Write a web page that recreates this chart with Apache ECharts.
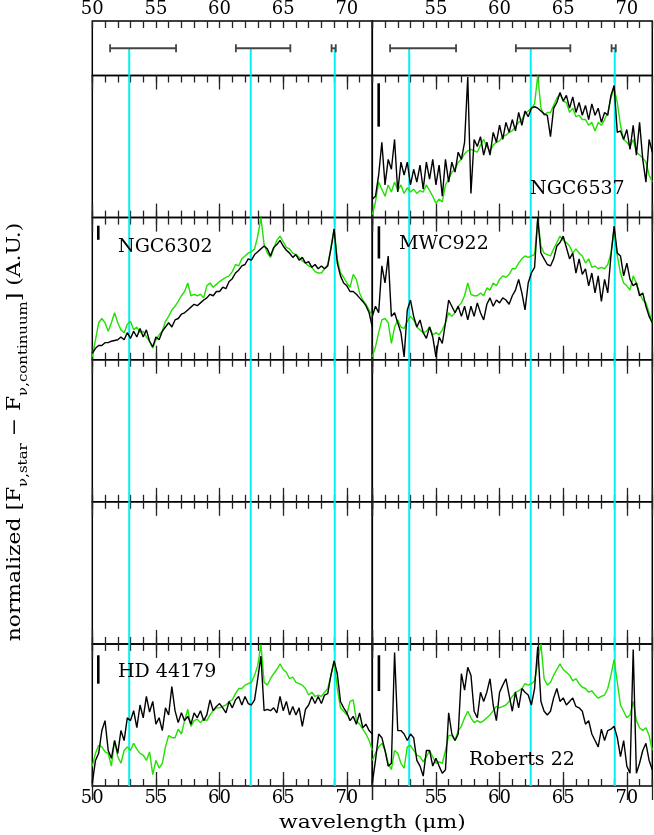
<!DOCTYPE html>
<html><head><meta charset="utf-8">
<script src="https://cdn.jsdelivr.net/npm/echarts@6/dist/echarts.min.js"></script>
<style>html,body{margin:0;padding:0;background:#fff}#c{width:654px;height:835px}</style>
</head><body><div id="c"></div>
<script>
// ---- data ----
const wl = [50,50.25,50.5,50.75,51,51.25,51.5,51.75,52,52.25,52.5,52.75,53,53.25,53.5,53.75,54,54.25,54.5,54.75,55,55.25,55.5,55.75,56,56.25,56.5,56.75,57,57.25,57.5,57.75,58,58.25,58.5,58.75,59,59.25,59.5,59.75,60,60.25,60.5,60.75,61,61.25,61.5,61.75,62,62.25,62.5,62.75,63,63.25,63.5,63.75,64,64.25,64.5,64.75,65,65.25,65.5,65.75,66,66.25,66.5,66.75,67,67.25,67.5,67.75,68,68.25,68.5,68.75,69,69.25,69.5,69.75,70,70.25,70.5,70.75,71,71.25,71.5,71.75,72];

const ngc6537Black = [13,15,30,53, 23,41,34,55, 18,39,30,39, 23,34,25,37, 20,39,27,41, 23,37,15,41, 25,39,32,46, 41,53,99,17, 55,50,57,44, 53,44,60,53, 65,55,67,60, 69,61,74,65, 75,71,77,78, 77,75,73,72, 57,77,81,88, 82,86,77,85, 74,81,72,79, 69,80,72,77, 67,74,72,86, 93,60,61,55, 62,48,65,44, 67,41,25,55, 46];
const ngc6537Green = [2,11,25,20, 15,23,18,25, 19,23,17,21, 18,20,17,19, 18,23,19,15, 10,13,11,23, 27,32,34,39, 41,45,47,48, 47,46,51,55, 50,47,51,53, 54,57,58,60, 61,64,67,69, 73,75,77,80, 100,77,72,74, 74,79,84,87, 82,81,74,77, 71,72,69,69, 65,67,61,67, 65,69,74,84, 91,81,65,55, 53,50,55,46, 44,42,39,30, 25];

const ngc6302Black = [4.5,8,10,10, 12,12,13,13.5, 14,16,14,19, 15,20,16,22, 16,21,13,9, 16,14,20,23, 26,23,28,29, 32,33,35,37, 39,38,40,42, 43.5,46,45,48, 48,51,50,55, 57,61,63,66, 67,71,70,74, 76,78,80,78, 73,79,81,84, 80,77,75,72, 74,70,72,68, 69,65,67,64, 66,64,66,78, 92,68,59,54, 52,48,48,46, 43.5,41,38,33, 23];
const ngc6302Green = [2,14,26,29, 26,20,26,33, 26,21,19,25, 27,21,23,19, 20,16,13,8, 14,17.5,20,27, 30.5,35,37.6,41, 45,48,54,45, 46,45,46,43.5, 52,54,51,53, 55,56.5,58,59, 62,67,66,71, 73,75,76,78, 87,100,81,75, 72,78,84,87, 83,79,78,75, 74,72,69.5,68, 66,65,62,61, 61,64,67,79, 92,71,61,58, 54,51,60,56.5, 47,42,39,35, 30.5];

const mwc922Black = [30.5,37.6,33,66, 54,73,30.5,33, 26,19,2,35, 42,30.5,23,28, 19,15,23,16, 2,16,11.5,26, 42,37.6,33,37.6, 30.5,37.6,28,37.6, 30.5,40,33,28, 39,43.5,37.6,42, 40,43.5,42,39, 45,49,56.5,47, 35,54,61,65, 100,75,71,67, 66,71,80,82.5, 87,79,71,75, 61,71,60,64, 52,61,47,59, 41,56.5,47,73, 94,75,73,59, 68,56.5,52,54, 45,47,37.6,30.5, 26];
const mwc922Green = [2,9,19,28, 29,26,11.5,23, 28,23,22,27, 30.5,28,23,21, 19,20,23,17.5, 19,17.5,21,26, 33,30.5,33,37.6, 40,45,54,46, 45,45,47,45, 50.5,49,54,52, 56.5,59,58,60, 64,64,68,71, 73,72,73,74, 99,80,75,74, 73,78,82.5,87, 84,82.5,80,75, 78,75,73,68, 71,65,66,64, 65,64,67,75, 92,73,61,54, 52,49,59,54, 47,42,40,33, 26];

const hd44179Black = [2,18,23,39, 46,25,19.5,32, 23,39,32,48, 46,53,41,57, 48,63,52,59.5, 43.5,48,39,55, 50,70,53,44.6, 51.5,46,49,43.5, 51.5,48,53,46, 50,60.6,53,56, 58,55,51.5,59.5, 55,60.6,63,57, 63,58,57,60.6, 75.5,91.5,53,54, 53,55,51.5,63, 53,59.5,50,56, 50,55,42,54, 57,63,58,63, 58,64,65,78, 88,79,59.5,55, 51.5,46,49,43.5, 51.5,41,43.5,39, 36.6];
const hd44179Green = [14,23,28.6,27.5, 24,23,14,32, 20.6,16,25,27.5, 25,30,26,23, 21.7,18,24,8, 18,12.6,16,27.5, 35.5,34,34,40, 36.6,46,54,42, 46,47,44.6,47, 46,50,53,55, 55,56,57,59.5, 60.6,65,68.6,68.6, 71,72,73,78, 84.7,99.5,73,71, 75.5,79,82,86, 82,80,75.5,76.7, 73,72,71,68.6, 64,66,63,64, 63,66,68.6,78, 88,68.6,55,52.6, 50,59.5,60.6,46, 43.5,40,36.6,32, 25];

const roberts22Black = [2,18,36.6,34, 25,14,16,94, 39,39,36.6,32, 36.6,34,18,14, 7,25,25,14, 19.5,14,9,11.5, 51.5,36.6,32,36.6, 79,67.5,83.5,78, 52.6,48,66,59.5, 66,75.5,57,46, 66,71,75.5,64, 52.6,66,55,68.6, 66,64,57,68.6, 98,59.5,52.6,50, 52.6,62,68.6,59.5, 62,57,59.5,62, 56,55,52.6,43.5, 46,36.6,32,27.5, 40,32,39,40, 42,34,20.6,32, 14,9,96,9, 16,25,30,18, 11.5];
const roberts22Green = [18,23,27.5,30, 25,16,11.5,25, 23,16,12.6,27.5, 28.6,25,21.7,20.6, 17,20.6,25,20.6, 16,17,16,25, 35.5,35.5,32,39, 42,48,52.6,48, 44.6,46,44.6,46, 48,50,53,56, 55,56,57,59.5, 63,66,67,68.6, 72,71,72,74, 87,100,75.5,71, 73,78,82,86, 82,80,78,74, 75.5,72,69.5,68.6, 66,67,64,61.8, 63,64,68.6,78, 89,73,57,52.6, 48,50,59.5,46, 41,39,41,35.5, 25];

// scale bars [wavelength, low, high]
const scaleBars = {
  'NGC6537': [50.5, 64, 94.5],
  'NGC6302': [50.47, 84.4, 94.3],
  'MWC922': [50.52, 71.2, 93.9],
  'HD 44179': [50.47, 72, 92],
  'Roberts 22': [50.52, 66.8, 92]
};
// feature positions (cyan) and their widths (error bars in top panel)
const featureCenters = [52.9, 62.45, 69.05];
const featureRanges = [[51.4, 56.58], [61.28, 65.56], [68.8, 69.13]];
const featureBarLevel = 0.5;

const xTicksMajor = 5, xTicksMinor = 1, xMin = 50, xMax = 72;

// ---- layout ----
const colLeft = [92.3, 372.3], colW = 280;
const topPanel = {top: 21, h: 54.5};
const rowTop0 = 75.5, rowH = 142.1;

const panels = [
  {col:1,row:1,name:'NGC6537',black:ngc6537Black,green:ngc6537Green,lx:530,ly:189},
  {col:0,row:2,name:'NGC6302',black:ngc6302Black,green:ngc6302Green,lx:118,ly:247},
  {col:1,row:2,name:'MWC922',black:mwc922Black,green:mwc922Green,lx:399,ly:244},
  {col:0,row:5,name:'HD 44179',black:hd44179Black,green:hd44179Green,lx:118,ly:672},
  {col:1,row:5,name:'Roberts 22',black:roberts22Black,green:roberts22Green,lx:469,ly:760}
];

const FONT = 'DejaVu Serif';
const grids=[], xAxis=[], yAxis=[], series=[], graphic=[];

function mkX(g, pos, interval, len, showLabel, col){
  return {type:'value', gridIndex:g, position:pos, min:xMin, max:xMax, interval:interval,
    axisLine:{show:false}, splitLine:{show:false}, minorTick:{show:false},
    axisTick:{show:true, inside:true, length:len, lineStyle:{color:'#222', width:1.3}},
    axisLabel:{show:showLabel, inside:false, margin:3, color:'#000', fontFamily:FONT, fontSize:18,
      showMaxLabel:false, showMinLabel: col===0}
  };
}

function addGrid(col, top, h, isTop, isBottomRow){
  const g = grids.length;
  grids.push({left:colLeft[col], top:top, width:colW, height:h, show:true, borderColor:'#000', borderWidth:1.5, backgroundColor:'transparent'});
  const xi = xAxis.length;
  xAxis.push(mkX(g,'top',xTicksMajor,14,isTop,col));
  xAxis.push(mkX(g,'top',xTicksMinor,7,false,col));
  if(!isTop){
    xAxis.push(mkX(g,'bottom',xTicksMajor,14,isBottomRow,col));
    xAxis.push(mkX(g,'bottom',xTicksMinor,7,false,col));
  }
  const yi = yAxis.length;
  yAxis.push({type:'value', gridIndex:g, min:0, max:isTop?1:100, show:false});
  // cyan feature lines
  const yLo = 0, yHi = isTop ? featureBarLevel : 100;
  series.push({type:'custom', xAxisIndex:xi, yAxisIndex:yi, silent:true, z:1, animation:false,
    data: featureCenters.map(c=>[c, yLo, yHi]),
    renderItem:(p,api)=>{
      const a = api.coord([api.value(0), api.value(1)]);
      const b = api.coord([api.value(0), api.value(2)]);
      return {type:'line', shape:{x1:a[0],y1:a[1],x2:b[0],y2:b[1]}, style:{stroke:'#00f2f2', lineWidth:2}};
    }});
  return {g, xi, yi};
}

// top panels with error bars
for(let col=0; col<2; col++){
  const {xi, yi} = addGrid(col, topPanel.top, topPanel.h, true, false);
  series.push({type:'custom', xAxisIndex:xi, yAxisIndex:yi, silent:true, z:3, animation:false,
    data: featureRanges.map(r=>[r[0], r[1], featureBarLevel]),
    renderItem:(p,api)=>{
      const a = api.coord([api.value(0), api.value(2)]);
      const b = api.coord([api.value(1), api.value(2)]);
      const st = {stroke:'#444', lineWidth:1.8};
      return {type:'group', children:[
        {type:'line', shape:{x1:a[0],y1:a[1],x2:b[0],y2:b[1]}, style:st},
        {type:'line', shape:{x1:a[0],y1:a[1]-4,x2:a[0],y2:a[1]+4}, style:st},
        {type:'line', shape:{x1:b[0],y1:b[1]-4,x2:b[0],y2:b[1]+4}, style:st}
      ]};
    }});
}

const axesByCell = {};
for(let row=1; row<=5; row++){
  for(let col=0; col<2; col++){
    axesByCell[col+'_'+row] = addGrid(col, rowTop0 + (row-1)*rowH, rowH, false, row===5);
  }
}

panels.forEach(pn=>{
  const {xi, yi} = axesByCell[pn.col+'_'+pn.row];
  series.push({type:'line', xAxisIndex:xi, yAxisIndex:yi, z:2, animation:false, showSymbol:false, symbol:'none', silent:true,
    data: wl.map((x,i)=>[x, pn.green[i]]), lineStyle:{color:'#22e000', width:1.4}});
  series.push({type:'line', xAxisIndex:xi, yAxisIndex:yi, z:3, animation:false, showSymbol:false, symbol:'none', silent:true,
    data: wl.map((x,i)=>[x, pn.black[i]]), lineStyle:{color:'#000', width:1.4}});
  const sb = scaleBars[pn.name];
  series.push({type:'custom', xAxisIndex:xi, yAxisIndex:yi, silent:true, z:4, animation:false,
    data:[sb],
    renderItem:(p,api)=>{
      const a = api.coord([api.value(0), api.value(1)]);
      const b = api.coord([api.value(0), api.value(2)]);
      return {type:'line', shape:{x1:a[0],y1:a[1],x2:b[0],y2:b[1]}, style:{stroke:'#000', lineWidth:2.6}};
    }});
  graphic.push({type:'text', x:pn.lx, y:pn.ly, z:10, style:{text:pn.name, fontFamily:FONT, fontSize:19, fill:'#000', align:'left', verticalAlign:'middle'}});
});

graphic.push({type:'text', x:372.3, y:823, z:10, scaleX:1.15,
  style:{text:'wavelength (μm)', fontFamily:FONT, fontSize:19, fill:'#000', align:'center', verticalAlign:'middle'}});
graphic.push({type:'text', x:15, y:432, rotation:Math.PI/2, z:10, scaleX:1.15,
  style:{text:'{m|normalized [F}{s|ν,star}{m| − F}{s|ν,continuum}{m|] (A.U.)}', align:'center', verticalAlign:'middle', fill:'#000',
    rich:{m:{fontFamily:FONT, fontSize:19, lineHeight:30, fill:'#000'}, s:{fontFamily:FONT, fontSize:13, lineHeight:14, verticalAlign:'bottom', fill:'#000'}}}});

const chart = echarts.init(document.getElementById('c'), null, {renderer:'canvas'});
chart.setOption({animation:false, backgroundColor:'#fff', grid:grids, xAxis:xAxis, yAxis:yAxis, series:series, graphic:graphic});
</script></body></html>
